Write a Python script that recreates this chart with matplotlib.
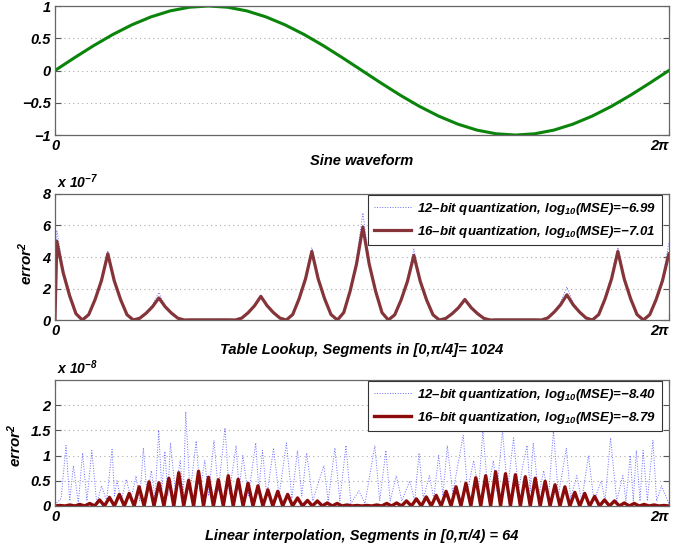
import numpy as np
import matplotlib
matplotlib.use("Agg")
import matplotlib.pyplot as plt

plt.rcParams["font.family"] = ["Liberation Sans", "DejaVu Sans"]
plt.rcParams["font.weight"] = "bold"
plt.rcParams["font.style"] = "italic"
plt.rcParams["axes.labelweight"] = "bold"
plt.rcParams["mathtext.fontset"] = "custom"
plt.rcParams["mathtext.rm"] = "Liberation Sans:bold:italic"
plt.rcParams["mathtext.it"] = "Liberation Sans:bold:italic"
plt.rcParams["mathtext.bf"] = "Liberation Sans:bold:italic"
plt.rcParams["mathtext.default"] = "rm"

# ---- data (x given as fraction of 2*pi) ----

# sine waveform, 33 samples over one period
sine_vals = [0, 0.195, 0.383, 0.556, 0.707, 0.831, 0.924, 0.981, 1.0,
             0.981, 0.924, 0.831, 0.707, 0.556, 0.383, 0.195, 0,
             -0.195, -0.383, -0.556, -0.707, -0.831, -0.924, -0.981, -1.0,
             -0.981, -0.924, -0.831, -0.707, -0.556, -0.383, -0.195, 0]

# table lookup error^2 (x 1e-7), first value at x=0 then 97 samples
table16 = [0.0,
           5.0, 3.0, 1.55, 0.4, 0, 0.34, 1.3, 2.5,
           4.2, 2.5, 1.3, 0.34, 0, 0.11, 0.43, 0.84,
           1.4, 0.84, 0.43, 0.11, 0, 0.01, 0.01, 0.01,
           0.01, 0.01, 0.01, 0.01, 0, 0.12, 0.46, 0.9,
           1.5, 0.9, 0.46, 0.12, 0, 0.35, 1.35, 2.6,
           4.35, 2.6, 1.35, 0.35, 0, 0.47, 1.83, 3.54,
           5.9, 3.54, 1.83, 0.47, 0, 0.33, 1.27, 2.46,
           4.1, 2.46, 1.27, 0.33, 0, 0.1, 0.4, 0.78,
           1.3, 0.78, 0.4, 0.1, 0, 0.01, 0.01, 0.01,
           0.01, 0.01, 0.01, 0.01, 0, 0.13, 0.5, 0.96,
           1.6, 0.96, 0.5, 0.13, 0, 0.35, 1.35, 2.6,
           4.35, 2.6, 1.35, 0.35, 0, 0.34, 1.3, 2.5,
           4.2]
table12 = [0.0,
           5.7, 3.2, 1.7, 0.4, 0.02, 0.4, 1.4, 2.7,
           4.4, 2.6, 1.4, 0.35, 0.03, 0.15, 0.5, 0.95,
           1.75, 0.9, 0.45, 0.1, 0.02, 0.05, 0.03, 0.04,
           0.05, 0.03, 0.06, 0.02, 0.04, 0.15, 0.5, 0.95,
           1.6, 0.95, 0.4, 0.15, 0.03, 0.4, 1.5, 2.8,
           4.6, 2.7, 1.4, 0.4, 0.02, 0.55, 2.0, 3.8,
           6.8, 3.7, 1.9, 0.5, 0.03, 0.4, 1.35, 2.6,
           4.5, 2.5, 1.3, 0.4, 0.02, 0.12, 0.45, 0.85,
           1.4, 0.8, 0.45, 0.12, 0.03, 0.04, 0.06, 0.03,
           0.05, 0.04, 0.03, 0.05, 0.02, 0.15, 0.55, 1.1,
           2.1, 1.05, 0.55, 0.15, 0.02, 0.4, 1.5, 2.8,
           4.6, 2.7, 1.4, 0.4, 0.03, 0.4, 1.4, 2.7,
           4.9]

# linear interpolation, 16-bit: peak heights of the 62 ripples (x 1e-8)
lin16_peaks = [0.01, 0.02,
               0.03, 0.05, 0.12, 0.17, 0.23, 0.25, 0.38, 0.48, 0.46, 0.55,
               0.66, 0.51, 0.69, 0.57, 0.52, 0.60, 0.53, 0.45, 0.40, 0.32,
               0.29, 0.23, 0.16, 0.11, 0.10, 0.06, 0.05,
               0.02, 0.01, 0.01, 0.02,
               0.05, 0.06, 0.10, 0.14, 0.18, 0.21, 0.29, 0.38, 0.45, 0.56,
               0.60, 0.68, 0.64, 0.62, 0.58, 0.55, 0.49, 0.42, 0.38, 0.27,
               0.25, 0.19, 0.12, 0.10, 0.06, 0.05, 0.03,
               0.02, 0.01]

# linear interpolation, 12-bit: spiky dotted trace (x 1e-8)
lin12_pos = [0.000, 0.010, 0.018, 0.024, 0.030, 0.038, 0.045, 0.052, 0.060, 0.068,
             0.076, 0.084, 0.093, 0.097, 0.101, 0.108, 0.116, 0.124, 0.132, 0.138,
             0.144, 0.150, 0.157, 0.163, 0.169, 0.174, 0.179, 0.184, 0.188, 0.196,
             0.204, 0.209, 0.213, 0.220, 0.230, 0.236, 0.244, 0.250, 0.259, 0.266,
             0.277, 0.284, 0.295, 0.300, 0.306, 0.315, 0.327, 0.332, 0.338, 0.345,
             0.356, 0.365, 0.377, 0.386, 0.395, 0.402, 0.410, 0.420, 0.430, 0.438,
             0.445, 0.456, 0.464, 0.474, 0.482, 0.495, 0.505, 0.521, 0.529, 0.539,
             0.546, 0.556, 0.565, 0.578, 0.586, 0.593, 0.600, 0.610, 0.617, 0.625,
             0.632, 0.639, 0.648, 0.656, 0.665, 0.672, 0.682, 0.690, 0.697, 0.705,
             0.714, 0.720, 0.729, 0.737, 0.747, 0.755, 0.762, 0.769, 0.774, 0.779,
             0.788, 0.796, 0.804, 0.812, 0.820, 0.833, 0.840, 0.850, 0.858, 0.869,
             0.878, 0.890, 0.896, 0.905, 0.915, 0.925, 0.930, 0.937, 0.942, 0.947,
             0.953, 0.958, 0.965, 0.974, 0.980, 0.988, 1.000]
lin12_val = [0.02, 0.15, 1.2, 0.1, 0.8, 0.05, 1.05, 0.1, 1.1, 0.05,
             0.4, 0.1, 1.12, 0.2, 0.5, 0.1, 0.53, 0.15, 0.6, 0.1,
             1.15, 0.2, 0.7, 0.15, 1.5, 0.3, 1.08, 0.2, 1.25, 0.3,
             0.9, 0.2, 1.87, 0.25, 1.29, 0.3, 0.9, 0.2, 1.3, 0.3,
             1.55, 0.25, 1.2, 0.3, 1.0, 0.2, 1.25, 0.3, 1.1, 0.2,
             1.15, 0.2, 1.25, 0.15, 1.1, 0.2, 1.05, 0.1, 0.5, 0.8,
             0.1, 1.15, 0.1, 1.2, 0.05, 0.3, 0.05, 1.2, 0.1, 1.1,
             0.1, 0.6, 0.1, 0.5, 0.1, 1.05, 0.15, 0.6, 0.15, 1.0,
             0.2, 1.2, 0.25, 0.8, 1.4, 0.3, 0.9, 0.3, 1.5, 0.3,
             0.9, 0.3, 1.5, 0.3, 1.35, 0.3, 0.8, 1.2, 0.3, 1.25,
             0.2, 0.7, 0.2, 1.5, 0.2, 1.15, 0.15, 0.6, 0.1, 1.0,
             0.1, 0.5, 0.1, 1.35, 0.1, 0.6, 0.1, 1.0, 0.1, 1.1,
             0.1, 1.1, 0.1, 1.3, 0.1, 0.4, 0.05]

legend_tl = ["12\u2013bit quantization, log$_{10}$(MSE)=\u22126.99",
             "16\u2013bit quantization, log$_{10}$(MSE)=\u22127.01"]
legend_li = ["12\u2013bit quantization, log$_{10}$(MSE)=\u22128.40",
             "16\u2013bit quantization, log$_{10}$(MSE)=\u22128.79"]

TWO_PI = 2 * np.pi
GREEN = "#0b840b"
RED_TL = "#85353a"
RED_LI = "#8b0a0a"
BLUE = "#6a6aff"


def style_axes(ax, xlabel):
    ax.set_xlim(0, TWO_PI)
    ax.set_xticks([0, TWO_PI])
    ax.set_xticklabels(["0", "2\u03c0"])
    ax.get_xticklabels()[1].set_horizontalalignment("right")
    ax.tick_params(direction="in", length=4, right=True, top=True,
                   labelsize=10.5, pad=3, color="#555555")
    for sp in ax.spines.values():
        sp.set_color("#666666")
        sp.set_linewidth(0.9)
    ax.yaxis.grid(True, color="#aaaaaa", linestyle=(0, (1, 3)), linewidth=0.8)
    ax.set_axisbelow(True)
    ax.set_xlabel(xlabel, fontsize=10.5)


def add_legend(ax):
    leg = ax.legend(loc="upper right", bbox_to_anchor=(0.989, 0.992),
                    borderaxespad=0, fancybox=False, framealpha=1,
                    edgecolor="#333333", fontsize=9.5, handlelength=2.8,
                    labelspacing=0.5, borderpad=0.45, handletextpad=0.5)
    leg.get_frame().set_linewidth(0.8)


fig = plt.figure(figsize=(6.89, 5.46), dpi=100)

# ---- sine ----
ax1 = fig.add_axes([0.0798, 0.7527, 0.891, 0.2363])
ax1.plot(np.linspace(0, TWO_PI, len(sine_vals)), sine_vals, color=GREEN, lw=2.2)
ax1.set_ylim(-1, 1)
ax1.set_yticks([-1, -0.5, 0, 0.5, 1])
ax1.set_yticklabels(["\u22121", "\u22120.5", "0", "0.5", "1"])
style_axes(ax1, "Sine waveform")
ax1.xaxis.set_label_coords(0.5, -0.15)

# ---- table lookup ----
ax2 = fig.add_axes([0.0798, 0.4139, 0.891, 0.2308])
xt = np.r_[0.0, np.linspace(0.003, 1, len(table16) - 1)] * TWO_PI
ax2.plot(xt, table12, color=BLUE, lw=0.7, linestyle=":", label=legend_tl[0])
ax2.plot(xt, table16, color=RED_TL, lw=2.3, label=legend_tl[1])
ax2.set_ylim(0, 8)
ax2.set_yticks([0, 2, 4, 6, 8])
style_axes(ax2, "Table Lookup, Segments in [0,\u03c0/4]= 1024")
ax2.xaxis.set_label_coords(0.5, -0.18)
ax2.set_ylabel("error$^2$", fontsize=11)
ax2.yaxis.set_label_coords(-0.033, 0.45)
ax2.text(0.003, 1.02, "x 10$^{\u22127}$", transform=ax2.transAxes,
         fontsize=10, ha="left", va="bottom")
add_legend(ax2)

# ---- linear interpolation ----
ax3 = fig.add_axes([0.0798, 0.0733, 0.891, 0.2308])
n = len(lin16_peaks)
xl = np.arange(2 * n + 1) / (2 * n) * TWO_PI
yl = np.zeros(2 * n + 1)
yl[1::2] = lin16_peaks
ax3.plot(np.array(lin12_pos) * TWO_PI, lin12_val, color=BLUE, lw=0.7,
         linestyle=":", label=legend_li[0])
ax3.plot(xl, yl, color=RED_LI, lw=2.4, label=legend_li[1])
ax3.set_ylim(0, 2.5)
ax3.set_yticks([0, 0.5, 1, 1.5, 2])
ax3.set_yticklabels(["0", "0.5", "1", "1.5", "2"])
style_axes(ax3, "Linear interpolation, Segments in [0,\u03c0/4) = 64")
ax3.xaxis.set_label_coords(0.5, -0.18)
ax3.set_ylabel("error$^2$", fontsize=11)
ax3.yaxis.set_label_coords(-0.05, 0.48)
ax3.text(0.003, 1.02, "x 10$^{\u22128}$", transform=ax3.transAxes,
         fontsize=10, ha="left", va="bottom")
add_legend(ax3)

fig.savefig("out.png", dpi=100)
